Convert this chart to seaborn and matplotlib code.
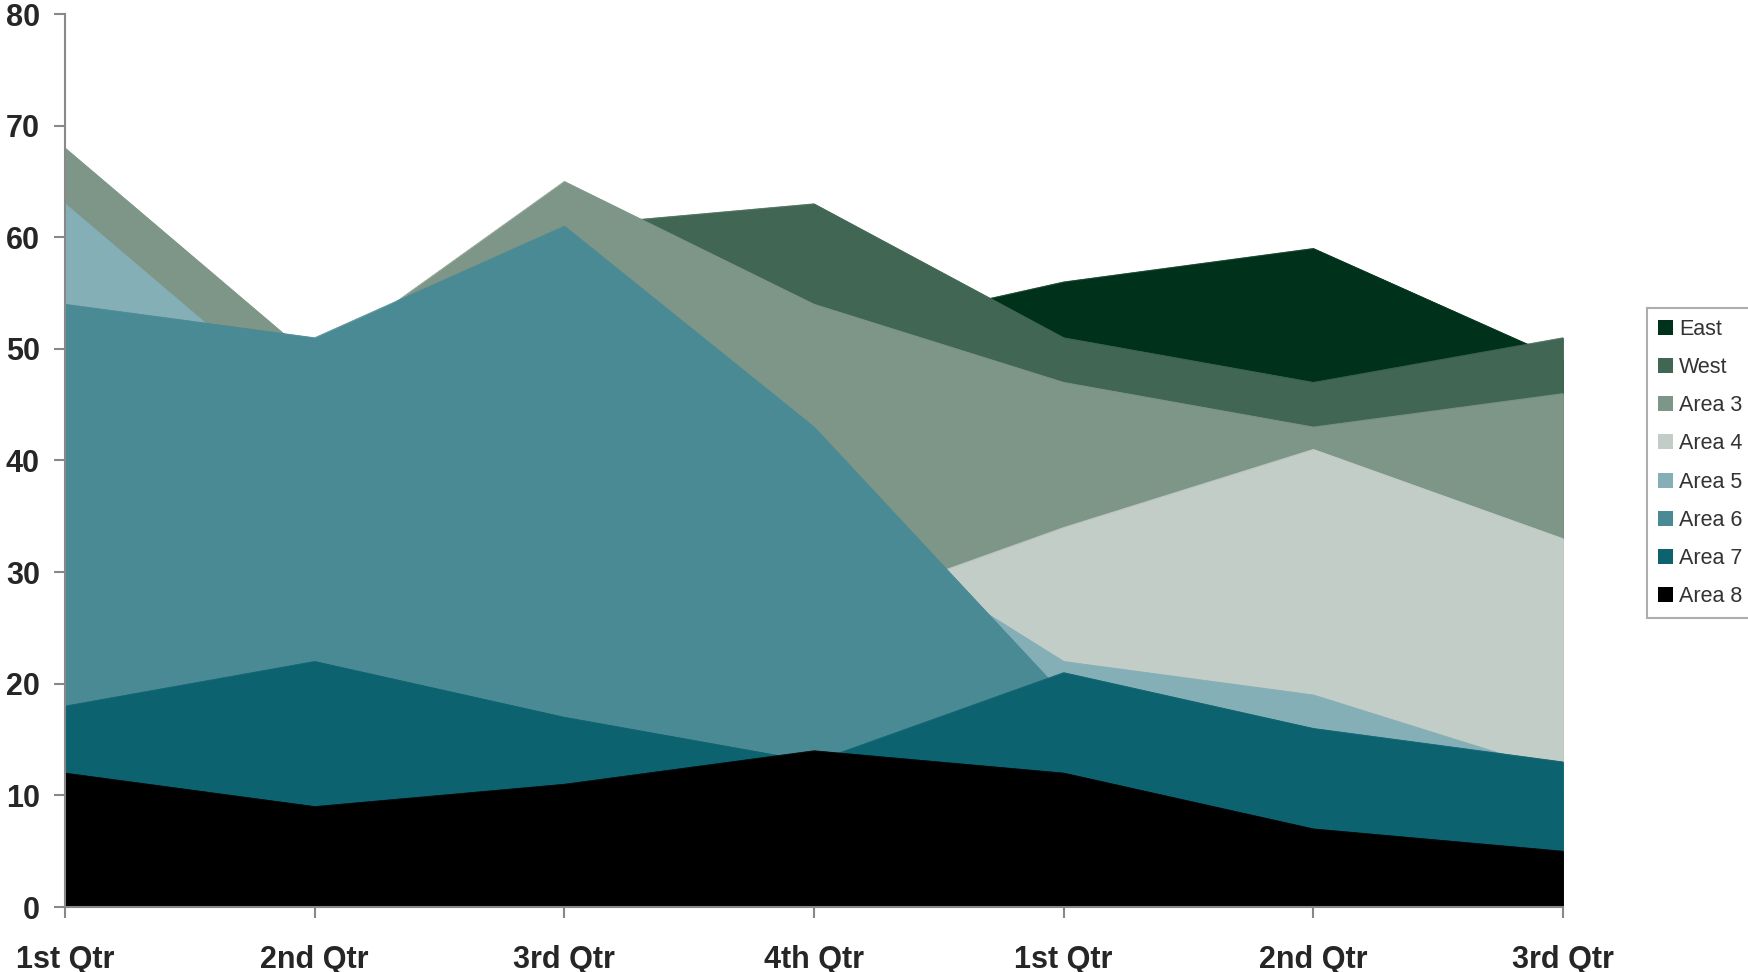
import matplotlib
matplotlib.use("Agg")
import matplotlib.pyplot as plt
import seaborn as sns
import pandas as pd
from matplotlib.patches import Patch

# ===== DONNEES =====
quarters = ["1st Qtr", "2nd Qtr", "3rd Qtr", "4th Qtr", "1st Qtr", "2nd Qtr", "3rd Qtr"]
series_names = ["East", "West", "Area 3", "Area 4", "Area 5", "Area 6", "Area 7", "Area 8"]

east = [40, 45, 50, 51, 56, 59, 49]
west = [58, 45, 61, 63, 51, 47, 51]
area3 = [68, 49, 65, 54, 47, 43, 46]
area4 = [30, 28, 35, 26, 34, 41, 33]
area5 = [63, 44, 40, 36, 22, 19, 12]
area6 = [54, 51, 61, 43, 19, 15, 10]
area7 = [18, 22, 17, 13, 21, 16, 13]
area8 = [12, 9, 11, 14, 12, 7, 5]

colors = ["#00321B", "#416754", "#7E9688", "#C3CDC7", "#84AFB6", "#4A8A94", "#0D6270", "#000000"]

values = [east, west, area3, area4, area5, area6, area7, area8]

rows = []
for name, vals in zip(series_names, values):
    for i, v in enumerate(vals):
        rows.append({"serie": name, "pos": i, "valeur": v})
df = pd.DataFrame(rows)

# ===== STYLE =====
sns.set_theme(style="white")
plt.rcParams["font.family"] = ["Liberation Sans", "DejaVu Sans"]

fig = plt.figure(figsize=(17.48, 9.72), dpi=100)
ax = fig.add_axes([65 / 1748, 1 - 907 / 972, (1563 - 65) / 1748, (907 - 14) / 972])

# ===== AIRES SUPERPOSEES (East au fond, Area 8 devant) =====
for z, (name, col) in enumerate(zip(series_names, colors)):
    d = df[df["serie"] == name]
    ax.fill_between(d["pos"], 0, d["valeur"], facecolor=col, edgecolor=col,
                    linewidth=0.6, zorder=z + 1)
    sns.lineplot(data=d, x="pos", y="valeur", ax=ax, color=col, linewidth=0.5,
                 zorder=z + 1, legend=False)

ax.set_xlim(0, len(quarters) - 1)
ax.set_ylim(0, 80)
ax.set_xticks(range(len(quarters)))
ax.set_xticklabels(quarters)
ax.set_yticks(range(0, 81, 10))
ax.set_xlabel("")
ax.set_ylabel("")

for s in ["top", "right"]:
    ax.spines[s].set_visible(False)
for s in ["left", "bottom"]:
    ax.spines[s].set_color("#888888")
    ax.spines[s].set_linewidth(1.5)
    ax.spines[s].set_zorder(20)

ax.tick_params(axis="both", which="major", direction="out", length=8, width=1.5,
               color="#888888", labelsize=22, labelcolor="#262626")
ax.tick_params(axis="y", pad=10, left=True)
ax.tick_params(axis="x", pad=19, bottom=True)
for lab in ax.get_xticklabels() + ax.get_yticklabels():
    lab.set_fontweight("bold")

# ===== LEGENDE =====
handles = [Patch(facecolor=c, edgecolor="none") for c in colors]
leg = fig.legend(handles, series_names, loc="upper left",
                 bbox_to_anchor=(1647 / 1748, 1 - 308 / 972), bbox_transform=fig.transFigure,
                 fontsize=15.5, frameon=True, fancybox=False, handlelength=0.7,
                 handleheight=0.7, handletextpad=0.3, labelspacing=0.8,
                 borderpad=0.5, borderaxespad=0)
leg.get_frame().set_edgecolor("#999999")
leg.get_frame().set_linewidth(1.5)
for t in leg.get_texts():
    t.set_color("#333333")

fig.savefig("out.png", dpi=100)
